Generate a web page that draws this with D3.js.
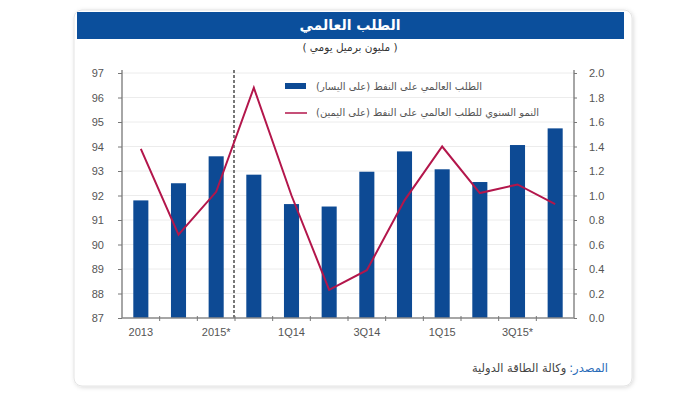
<!DOCTYPE html>
<html>
<head>
<meta charset="utf-8">
<script src="https://cdn.jsdelivr.net/npm/d3@7"></script>
<style>
  body { margin: 0; background: #fff; }
  svg text { font-family: "Liberation Sans", Arial, sans-serif; }
  .ar { font-family: "DejaVu Sans", "Noto Sans", sans-serif; }
</style>
</head>
<body>
<div id="chart"></div>
<script>
const width  = 700;
const height = 393;

// data
const categories = [ '2013', '2014', '2015*', '4Q13', '1Q14', '2Q14', '3Q14', '4Q14', '1Q15', '2Q15', '3Q15*', '4Q15*' ];
const tickLabels = [ '2013', '2015*', '1Q14', '3Q14', '1Q15', '3Q15*' ];
const demand     = [ 91.8, 92.5, 93.6, 92.85, 91.65, 91.55, 92.97, 93.8, 93.07, 92.55, 94.06, 94.74 ];
const growth     = [ 1.38, 0.68, 1.03, 1.88, 1.0, 0.23, 0.39, 0.96, 1.40, 1.02, 1.09, 0.93 ];
const leftTicks  = [ 87, 88, 89, 90, 91, 92, 93, 94, 95, 96, 97 ];
const rightTicks = [ 0, 0.2, 0.4, 0.6, 0.8, 1.0, 1.2, 1.4, 1.6, 1.8, 2.0 ];

const barColour  = '#0d4a94';
const lineColour = '#b3164b';

const svg = d3.select( '#chart' )
              .append( 'svg' )
              .attr( 'width', width )
              .attr( 'height', height );

// card
const defs = svg.append( 'defs' );
const shadow = defs.append( 'filter' ).attr( 'id', 'sh' ).attr( 'x', '-5%' ).attr( 'y', '-5%' ).attr( 'width', '110%' ).attr( 'height', '110%' );
shadow.append( 'feDropShadow' ).attr( 'dx', 1 ).attr( 'dy', 1 ).attr( 'stdDeviation', 2 ).attr( 'flood-color', '#000' ).attr( 'flood-opacity', 0.15 );

svg.append( 'rect' )
   .attr( 'x', 74 ).attr( 'y', 10 ).attr( 'width', 558 ).attr( 'height', 376 )
   .attr( 'rx', 8 )
   .attr( 'fill', '#fff' )
   .attr( 'stroke', '#e4e4e4' )
   .attr( 'filter', 'url(#sh)' );

svg.append( 'rect' )
   .attr( 'x', 77 ).attr( 'y', 12 ).attr( 'width', 547 ).attr( 'height', 27 )
   .attr( 'fill', '#0b4f9c' );

svg.append( 'text' )
   .attr( 'class', 'ar' )
   .attr( 'x', 350 ).attr( 'y', 30 )
   .attr( 'text-anchor', 'middle' )
   .attr( 'direction', 'rtl' )
   .attr( 'font-size', 14 ).attr( 'font-weight', 'bold' )
   .attr( 'fill', '#fff' )
   .text( 'الطلب العالمي' );

svg.append( 'text' )
   .attr( 'class', 'ar' )
   .attr( 'x', 350 ).attr( 'y', 51 )
   .attr( 'text-anchor', 'middle' )
   .attr( 'direction', 'rtl' )
   .attr( 'font-size', 10.5 )
   .attr( 'fill', '#333' )
   .text( '( مليون برميل يومي )' );

// scales
const x = d3.scaleBand()
            .domain( categories )
            .range( [ 122, 574 ] )
            .paddingInner( 0.6 )
            .paddingOuter( 0.3 );

const yLeft = d3.scaleLinear()
                .domain( [ 87, 97 ] )
                .range( [ 318, 73 ] );

const yRight = d3.scaleLinear()
                 .domain( [ 0, 2 ] )
                 .range( [ 318, 73 ] );

// grid
svg.append( 'g' )
   .selectAll( 'line' )
   .data( leftTicks.slice( 1 ) )
   .enter()
   .append( 'line' )
   .attr( 'x1', 122 ).attr( 'x2', 574 )
   .attr( 'y1', d => yLeft( d ) ).attr( 'y2', d => yLeft( d ) )
   .attr( 'stroke', '#ececec' );

// bars
svg.append( 'g' )
   .selectAll( 'rect' )
   .data( demand )
   .enter()
   .append( 'rect' )
   .attr( 'x', ( d, i ) => x( categories[ i ] ) )
   .attr( 'y', d => yLeft( d ) )
   .attr( 'width', x.bandwidth() )
   .attr( 'height', d => yLeft( 87 ) - yLeft( d ) )
   .attr( 'fill', barColour );

// dashed separator between annual and quarterly
const step = x.step();
const sepX = x( '4Q13' ) - ( step - x.bandwidth() ) / 2 - 1;
svg.append( 'line' )
   .attr( 'x1', sepX ).attr( 'x2', sepX )
   .attr( 'y1', 70 ).attr( 'y2', 318 )
   .attr( 'stroke', '#777' )
   .attr( 'stroke-width', 2 )
   .attr( 'stroke-dasharray', '3,2' );

// growth line
const line = d3.line()
               .x( ( d, i ) => x( categories[ i ] ) + x.bandwidth() / 2 )
               .y( d => yRight( d ) );

svg.append( 'path' )
   .datum( growth )
   .attr( 'd', line )
   .attr( 'fill', 'none' )
   .attr( 'stroke', lineColour )
   .attr( 'stroke-width', 2 );

// axes
const leftAxis = svg.append( 'g' )
                    .attr( 'transform', 'translate(122,0)' )
                    .call( d3.axisLeft( yLeft ).tickValues( leftTicks ).tickSize( 4 ).tickPadding( 14 ) );

const rightAxis = svg.append( 'g' )
                     .attr( 'transform', 'translate(574,0)' )
                     .call( d3.axisRight( yRight ).tickValues( rightTicks ).tickFormat( d3.format( '.1f' ) ).tickSize( 3 ).tickPadding( 12 ) );

const bottomAxis = svg.append( 'g' )
                      .attr( 'transform', 'translate(0,318)' )
                      .call( d3.axisBottom( x ).tickValues( tickLabels ).tickSize( 0 ).tickPadding( 10 ) );

// ticks at band boundaries on the x axis
svg.append( 'g' )
   .selectAll( 'line' )
   .data( categories.slice( 1 ) )
   .enter()
   .append( 'line' )
   .attr( 'x1', d => x( d ) - ( step - x.bandwidth() ) / 2 )
   .attr( 'x2', d => x( d ) - ( step - x.bandwidth() ) / 2 )
   .attr( 'y1', 316 ).attr( 'y2', 321 )
   .attr( 'stroke', '#777' );

[ leftAxis, rightAxis, bottomAxis ].forEach( g => {
    g.selectAll( 'path' ).attr( 'stroke', '#888' ).attr( 'stroke-width', 1.5 );
    g.selectAll( 'line' ).attr( 'stroke', '#777' );
    g.selectAll( 'text' ).attr( 'font-size', 11 ).attr( 'fill', '#555' );
});
leftAxis.select( 'path' ).attr( 'd', 'M0,70V318' );
rightAxis.select( 'path' ).attr( 'd', 'M0,70V318' );
bottomAxis.select( 'path' ).attr( 'd', 'M122,0H574' );

// legend
const legend = svg.append( 'g' );
legend.append( 'rect' )
      .attr( 'x', 285 ).attr( 'y', 83 ).attr( 'width', 21 ).attr( 'height', 6 )
      .attr( 'fill', barColour );
legend.append( 'line' )
      .attr( 'x1', 285 ).attr( 'x2', 307 )
      .attr( 'y1', 113 ).attr( 'y2', 113 )
      .attr( 'stroke', lineColour ).attr( 'stroke-width', 1.5 );
legend.append( 'text' )
      .attr( 'class', 'ar' )
      .attr( 'x', 316 ).attr( 'y', 90 )
      .attr( 'direction', 'rtl' )
      .attr( 'text-anchor', 'end' )
      .attr( 'font-size', 10 )
      .attr( 'fill', '#555' )
      .text( 'الطلب العالمي على النفط (على اليسار)' );
legend.append( 'text' )
      .attr( 'class', 'ar' )
      .attr( 'x', 316 ).attr( 'y', 116 )
      .attr( 'direction', 'rtl' )
      .attr( 'text-anchor', 'end' )
      .attr( 'font-size', 10 )
      .attr( 'fill', '#555' )
      .text( 'النمو السنوي للطلب العالمي على النفط (على اليمين)' );

// source
const src1 = svg.append( 'text' )
   .attr( 'class', 'ar' )
   .attr( 'x', 608 ).attr( 'y', 372 )
   .attr( 'direction', 'rtl' )
   .attr( 'font-size', 11.5 )
   .attr( 'fill', '#2a6bb8' )
   .text( 'المصدر:' );
const w1 = src1.node().getComputedTextLength();
svg.append( 'text' )
   .attr( 'class', 'ar' )
   .attr( 'x', 608 - w1 - 3 ).attr( 'y', 372 )
   .attr( 'direction', 'rtl' )
   .attr( 'font-size', 11.5 )
   .attr( 'fill', '#444' )
   .text( 'وكالة الطاقة الدولية' );
</script>
</body>
</html>
